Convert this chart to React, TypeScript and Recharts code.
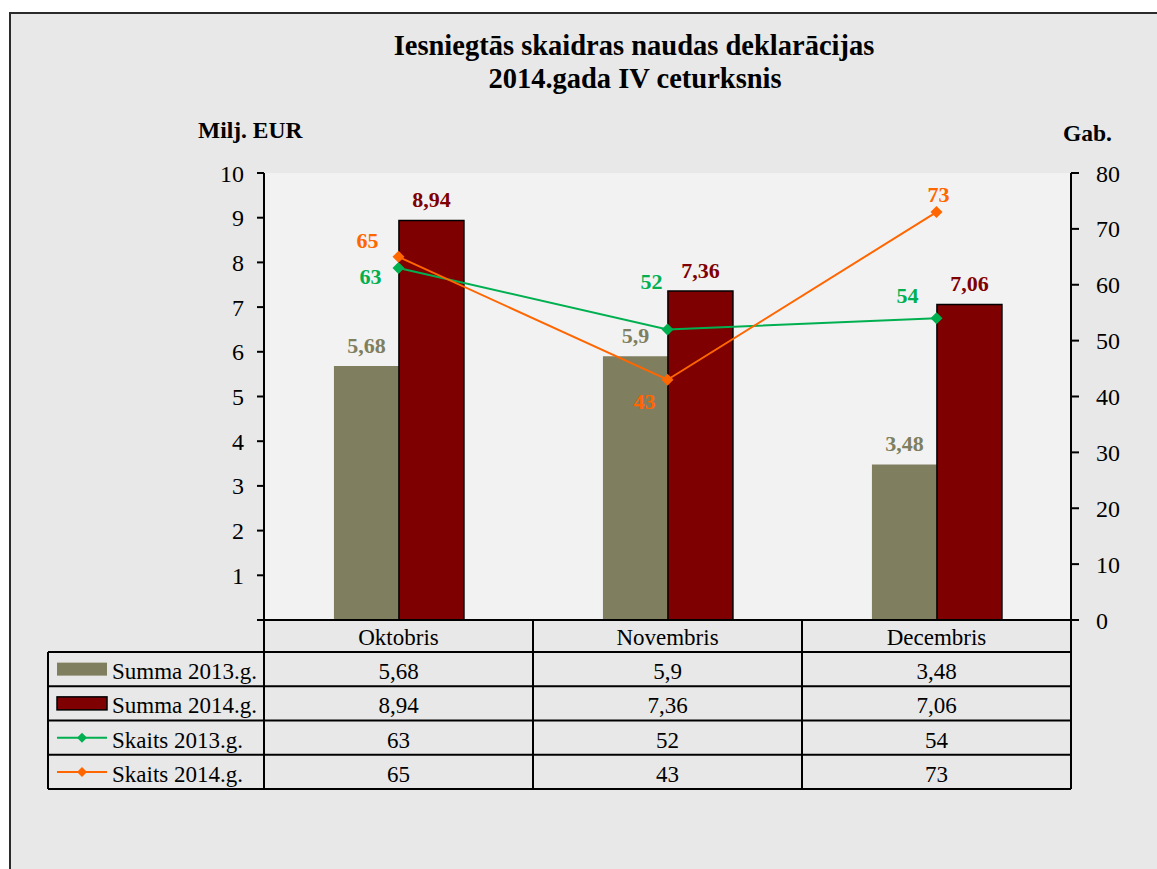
import React from 'react';
import { ComposedChart, Bar, Line, XAxis, YAxis, CartesianGrid, LabelList } from 'recharts';

const categories = ['Oktobris', 'Novembris', 'Decembris'];
const summa2013 = [5.68, 5.9, 3.48];
const summa2014 = [8.94, 7.36, 7.06];
const skaits2013 = [63, 52, 54];
const skaits2014 = [65, 43, 73];
const leftTicks = [0, 1, 2, 3, 4, 5, 6, 7, 8, 9, 10];
const rightTicks = [0, 10, 20, 30, 40, 50, 60, 70, 80];
const seriesNames = ['Summa 2013.g.', 'Summa 2014.g.', 'Skaits 2013.g.', 'Skaits 2014.g.'];
const titleLines = ['Iesniegtās skaidras naudas deklarācijas', '2014.gada IV ceturksnis'];
const leftTitle = 'Milj. EUR';
const rightTitle = 'Gab.';

const data = categories.map((name, i) => ({
  name,
  s13: summa2013[i],
  s14: summa2014[i],
  k13: skaits2013[i],
  k14: skaits2014[i],
}));

const FONT = '"Liberation Serif", "Times New Roman", serif';
const OLIVE = '#7f7f5f';
const DARKRED = '#7f0000';
const GREEN = '#00b050';
const ORANGE = '#ff6600';

// layout constants
const W = 1157;
const H = 869;
const MARGIN = { top: 173, right: 26, bottom: 80, left: 204 };
const AXIS_W = 60;
const PLOT_W = W - MARGIN.left - MARGIN.right - 2 * AXIS_W;
const CELL_W = PLOT_W / categories.length;
const HEADER_H = 32;
const ROW_H = 34.25;
const TABLE_H = HEADER_H + ROW_H * 4;
const LEGEND_LEFT = 48;
const TABLE_FS = 23;

// label offsets (center of label relative to point)
const k13Offsets = [[-28, 9], [-16, -47], [-29, -22]];
const k14Offsets = [[-31, -16], [-23, 22], [2, -17]];

const fmt = (v: number) => String(v).replace('.', ',');

const seriesColumns = [summa2013, summa2014, skaits2013, skaits2014];

const LegendIcon = ({ idx, x, cy }: { idx: number; x: number; cy: number }) => {
  if (idx === 0) return <rect x={x} y={cy - 6.5} width={50} height={13} fill={OLIVE} />;
  if (idx === 1) return <rect x={x} y={cy - 6.5} width={50} height={13} fill={DARKRED} stroke="#000" strokeWidth={1.5} />;
  const c = idx === 2 ? GREEN : ORANGE;
  return (
    <g>
      <line x1={x} x2={x + 50} y1={cy} y2={cy} stroke={c} strokeWidth={2} />
      <path d={`M${x + 25} ${cy - 5}L${x + 30} ${cy}L${x + 25} ${cy + 5}L${x + 20} ${cy}Z`} fill={c} />
    </g>
  );
};

const TableTick = (props: any) => {
  const { x, y, payload, index } = props;
  const left = x - CELL_W / 2;
  const right = x + CELL_W / 2;
  const top = y;
  const rowsTop = top + HEADER_H;
  const bottom = top + TABLE_H;
  const els: any[] = [];
  els.push(<line key="vl" x1={left} x2={left} y1={top} y2={bottom} stroke="#000" strokeWidth={2} />);
  els.push(<line key="vr" x1={right} x2={right} y1={top} y2={bottom} stroke="#000" strokeWidth={2} />);
  for (let r = 0; r <= 4; r++) {
    const ly = rowsTop + r * ROW_H;
    els.push(<line key={'h' + r} x1={left} x2={right} y1={ly} y2={ly} stroke="#000" strokeWidth={2} />);
  }
  els.push(
    <text key="hd" x={x} y={top + 25} textAnchor="middle" fontFamily={FONT} fontSize={TABLE_FS} fill="#000">
      {payload.value}
    </text>
  );
  seriesColumns.forEach((col, r) => {
    els.push(
      <text key={'t' + r} x={x} y={rowsTop + r * ROW_H + 27} textAnchor="middle" fontFamily={FONT} fontSize={TABLE_FS} fill="#000">
        {fmt(col[index])}
      </text>
    );
  });
  if (index === 0) {
    els.push(<line key="lvl" x1={LEGEND_LEFT} x2={LEGEND_LEFT} y1={rowsTop} y2={bottom} stroke="#000" strokeWidth={2} />);
    for (let r = 0; r <= 4; r++) {
      const ly = rowsTop + r * ROW_H;
      els.push(<line key={'lh' + r} x1={LEGEND_LEFT} x2={left} y1={ly} y2={ly} stroke="#000" strokeWidth={2} />);
    }
    seriesNames.forEach((n, r) => {
      const cy = rowsTop + r * ROW_H + ROW_H / 2;
      els.push(<LegendIcon key={'li' + r} idx={r} x={LEGEND_LEFT + 9} cy={cy} />);
      els.push(
        <text key={'ln' + r} x={LEGEND_LEFT + 64} y={rowsTop + r * ROW_H + 27} fontFamily={FONT} fontSize={TABLE_FS} fill="#000">
          {n}
        </text>
      );
    });
  }
  return <g>{els}</g>;
};

const Diamond = (color: string) => (props: any) => {
  const { cx, cy, index } = props;
  if (cx == null || cy == null) return <g key={index} />;
  return <path key={index} d={`M${cx} ${cy - 6}L${cx + 6} ${cy}L${cx} ${cy + 6}L${cx - 6} ${cy}Z`} fill={color} />;
};

const barLabel = (color: string) => (props: any) => {
  const { x, y, width, value } = props;
  return (
    <text x={x + width / 2} y={y - 13} textAnchor="middle" fontFamily={FONT} fontSize={22} fontWeight="bold" fill={color}>
      {fmt(value)}
    </text>
  );
};

const lineLabel = (color: string, offsets: number[][]) => (props: any) => {
  const { x, y, value, index } = props;
  const [dx, dy] = offsets[index] || [0, -15];
  return (
    <text x={x + dx} y={y + dy + 7} textAnchor="middle" fontFamily={FONT} fontSize={22} fontWeight="bold" fill={color}>
      {fmt(value)}
    </text>
  );
};

export default function App() {
  return (
    <div style={{ position: 'absolute', left: 0, top: 0, width: W, height: H, overflow: 'hidden', fontFamily: FONT }}>
      <div
        style={{
          position: 'absolute',
          left: 9,
          top: 12,
          width: 1200,
          height: 900,
          border: '2px solid #2b2b2b',
          background: '#e8e8e8',
          boxSizing: 'border-box',
        }}
      />
      <svg style={{ position: 'absolute', left: 0, top: 0 }} width={W} height={H}>
        <text x={634} y={55} textAnchor="middle" fontFamily={FONT} fontSize={28.5} fontWeight="bold" fill="#000">
          {titleLines[0]}
        </text>
        <text x={635} y={88} textAnchor="middle" fontFamily={FONT} fontSize={28.5} fontWeight="bold" fill="#000">
          {titleLines[1]}
        </text>
        <text x={198} y={138} fontFamily={FONT} fontSize={23.5} fontWeight="bold" fill="#000">
          {leftTitle}
        </text>
        <text x={1063} y={141} fontFamily={FONT} fontSize={23.5} fontWeight="bold" fill="#000">
          {rightTitle}
        </text>
      </svg>
      <div style={{ position: 'absolute', left: 0, top: 0 }}>
        <ComposedChart width={W} height={H} data={data} margin={MARGIN} barCategoryGap="26%" barGap={0}>
          <CartesianGrid horizontal={false} vertical={false} fill="#f2f2f2" yAxisId="left" />
          <XAxis
            dataKey="name"
            height={TABLE_H}
            tickSize={0}
            tickMargin={0}
            interval={0}
            tick={<TableTick />}
            axisLine={{ stroke: '#000', strokeWidth: 2 }}
            tickLine={false}
            xAxisId={0}
          />
          <YAxis
            yAxisId="left"
            orientation="left"
            width={AXIS_W}
            domain={[0, 10]}
            ticks={leftTicks}
            interval={0}
            tickFormatter={(v: number) => (v === 0 ? '' : String(v))}
            tickSize={7}
            tickMargin={13}
            axisLine={{ stroke: '#000', strokeWidth: 2 }}
            tickLine={{ stroke: '#000', strokeWidth: 2 }}
            tick={{ fill: '#000', fontSize: 24, fontFamily: FONT }}
          />
          <YAxis
            yAxisId="right"
            orientation="right"
            width={AXIS_W}
            domain={[0, 80]}
            ticks={rightTicks}
            interval={0}
            tickSize={8}
            tickMargin={17}
            axisLine={{ stroke: '#000', strokeWidth: 2 }}
            tickLine={{ stroke: '#000', strokeWidth: 2 }}
            tick={{ fill: '#000', fontSize: 24, fontFamily: FONT, textAnchor: 'start' }}
          />
          <Bar yAxisId="left" dataKey="s13" fill={OLIVE} isAnimationActive={false}>
            <LabelList dataKey="s13" content={barLabel(OLIVE)} />
          </Bar>
          <Bar yAxisId="left" dataKey="s14" fill={DARKRED} stroke="#000" strokeWidth={1.5} isAnimationActive={false}>
            <LabelList dataKey="s14" content={barLabel(DARKRED)} />
          </Bar>
          <Line
            yAxisId="right"
            dataKey="k13"
            stroke={GREEN}
            strokeWidth={2}
            dot={Diamond(GREEN)}
            activeDot={false}
            isAnimationActive={false}
          >
            <LabelList dataKey="k13" content={lineLabel(GREEN, k13Offsets)} />
          </Line>
          <Line
            yAxisId="right"
            dataKey="k14"
            stroke={ORANGE}
            strokeWidth={2}
            dot={Diamond(ORANGE)}
            activeDot={false}
            isAnimationActive={false}
          >
            <LabelList dataKey="k14" content={lineLabel(ORANGE, k14Offsets)} />
          </Line>
        </ComposedChart>
      </div>
    </div>
  );
}
